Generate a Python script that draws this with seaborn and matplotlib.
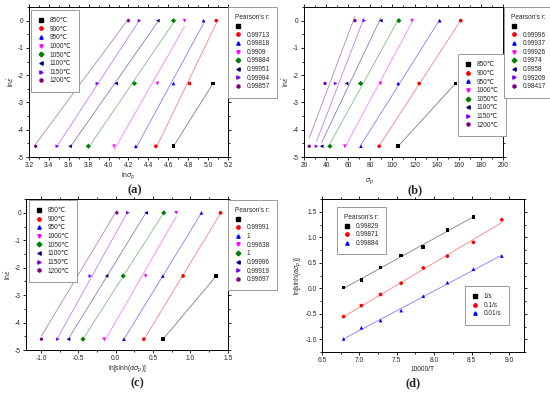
import numpy as np
import pandas as pd
import seaborn as sns
import matplotlib.pyplot as plt
from matplotlib.lines import Line2D
from matplotlib.ticker import AutoMinorLocator, FormatStrFormatter

# ---- data ----
temps = [850, 900, 950, 1000, 1050, 1100, 1150, 1200]
rate_labels = ["1/s", "0.1/s", "0.01/s"]
ln_rate = [0.0, -2.303, -4.605]

# ln(sigma_p), ordered by temperature, for 1, 0.1, 0.01 /s
ln_sig_1 = [np.nan, 5.083, 4.955, 4.764, 4.653, 4.495, 4.311, 4.200]
ln_sig_01 = [5.050, 4.814, 4.653, 4.492, 4.260, 4.076, 3.888, 3.690]
ln_sig_001 = [4.653, 4.475, 4.274, 4.056, 3.797, 3.613, 3.485, 3.267]

# sigma_p (MPa)
sig_1 = [np.nan, 161.8, 142.8, 117.8, 105.8, 89.5, 74.5, 66.1]
sig_01 = [157.0, 124.2, 105.2, 89.2, 71.2, 58.5, 48.6, 39.0]
sig_001 = [105.2, 88.0, 71.5, 57.0, 43.5, 36.0, 31.4, 24.8]

# ln[sinh(alpha*sigma_p)]
lns_1 = [np.nan, 1.402, 1.147, 0.810, 0.643, 0.407, 0.163, 0.015]
lns_01 = [1.344, 0.901, 0.630, 0.400, 0.100, -0.122, -0.340, -0.556]
lns_001 = [0.633, 0.376, 0.110, -0.155, -0.438, -0.632, -0.774, -0.994]

# 10000/T
inv_T = [8.905, 8.525, 8.177, 7.855, 7.559, 7.283, 7.027, 6.789]

r_a = ["0.99713", "0.99818", "0.9909", "0.99884", "0.99951", "0.99994", "0.99857"]
r_b = ["0.99996", "0.99937", "0.99926", "0.9974", "0.9958", "0.99209", "0.98417"]
r_c = ["0.99991", "1", "0.99638", "1", "0.99996", "0.99919", "0.99697"]
r_d = ["0.99829", "0.99871", "0.99884"]

t_colors = ["#000000", "#ff0000", "#0000ff", "#ff00ff", "#008000", "#000080", "#8000ff", "#800080"]
t_markers = ["s", "o", "^", "v", "D", "<", ">", "h"]
d_colors = ["#000000", "#ff0000", "#0000ff"]
d_markers = ["s", "o", "^"]

sns.set_style("ticks")
plt.rcParams["font.family"] = ["Liberation Sans", "DejaVu Sans"]
plt.rcParams["axes.unicode_minus"] = False
plt.rcParams["mathtext.fontset"] = "dejavusans"

fig = plt.figure(figsize=(5.5, 3.95), dpi=100)
FS = 4.8
LFS = 4.7


def style_axes(ax):
    ax.tick_params(which="both", direction="out", top=True, right=True,
                   labelsize=FS, width=0.6, color="black", pad=1.5)
    ax.tick_params(which="major", length=2.2)
    ax.tick_params(which="minor", length=1.3)
    ax.xaxis.set_minor_locator(AutoMinorLocator(2))
    ax.yaxis.set_minor_locator(AutoMinorLocator(2))
    for sp in ax.spines.values():
        sp.set_linewidth(0.7)
        sp.set_color("black")


def handles(colors, markers):
    return [Line2D([], [], ls="none", marker=m, color=c, markersize=2.4)
            for c, m in zip(colors, markers)]


def add_legend(hs, labels, anchor, title=None):
    leg = fig.legend(hs, labels, loc="upper left", bbox_to_anchor=anchor,
                     fontsize=LFS, title=title, title_fontsize=LFS,
                     frameon=True, fancybox=False, edgecolor="#999999",
                     framealpha=1, labelspacing=0.25, handlelength=0.9,
                     handletextpad=0.9, borderpad=1.1, borderaxespad=0,
                     alignment="left")
    leg.get_frame().set_linewidth(0.7)
    return leg


def temp_panel(ax, cols, xlim, xticks, fmt, xlabel, r_vals, t_anchor, r_anchor):
    rows = []
    for i, t in enumerate(temps):
        for col, y in zip(cols, ln_rate):
            rows.append({"T": t, "x": col[i], "y": y})
    df = pd.DataFrame(rows).dropna()
    for i, t in enumerate(temps):
        sub = df[df["T"] == t]
        sns.regplot(data=sub, x="x", y="y", scatter=False, ci=None, ax=ax,
                    truncate=True,
                    line_kws=dict(color=t_colors[i], alpha=0.5, lw=0.6))
    sns.scatterplot(data=df, x="x", y="y", hue="T", style="T", hue_order=temps,
                    style_order=temps, palette=dict(zip(temps, t_colors)),
                    markers=dict(zip(temps, t_markers)), s=7, linewidth=0,
                    legend=False, ax=ax, zorder=3)
    ax.set_xlim(*xlim)
    ax.set_ylim(-5, 0.5)
    ax.set_xticks(xticks)
    ax.set_yticks([0, -1, -2, -3, -4, -5])
    ax.xaxis.set_major_formatter(FormatStrFormatter(fmt))
    ax.set_xlabel(xlabel, fontsize=FS, labelpad=1)
    ax.set_ylabel(r"ln$\dot{\varepsilon}$", fontsize=FS, labelpad=1)
    style_axes(ax)
    add_legend(handles(t_colors, t_markers), [f"{t}℃" for t in temps], t_anchor)
    add_legend(handles(t_colors, t_markers), [" "] + r_vals, r_anchor,
               title="Pearson's r:")


ax_a = fig.add_axes([0.0527, 0.6025, 0.3618, 0.3797])
temp_panel(ax_a, [ln_sig_1, ln_sig_01, ln_sig_001], (3.2, 5.2),
           np.arange(3.2, 5.21, 0.2), "%.1f", r"ln$\sigma_p$", r_a,
           (0.0564, 0.975), (0.4145, 0.982))

ax_b = fig.add_axes([0.5527, 0.6025, 0.3618, 0.3797])
temp_panel(ax_b, [sig_1, sig_01, sig_001], (20, 200),
           np.arange(20, 201, 20), "%d", r"$\sigma_p$", r_b,
           (0.8327, 0.863), (0.9164, 0.982))
ax_b.xaxis.set_label_coords(0.33, -0.13)

ax_c = fig.add_axes([0.0473, 0.1139, 0.367, 0.382])
temp_panel(ax_c, [lns_1, lns_01, lns_001], (-1.2, 1.5),
           [-1.0, -0.5, 0.0, 0.5, 1.0, 1.5], "%.1f",
           r"ln[sinh($\alpha\sigma_p$)]", r_c,
           (0.0527, 0.4937), (0.4145, 0.4937))

# ---- panel (d) ----
ax_d = fig.add_axes([0.5855, 0.1089, 0.367, 0.387])
rows = []
for lab, col in zip(rate_labels, [lns_1, lns_01, lns_001]):
    for x, y in zip(inv_T, col):
        rows.append({"rate": lab, "x": x, "y": y})
dfd = pd.DataFrame(rows).dropna()
for i, lab in enumerate(rate_labels):
    sns.regplot(data=dfd[dfd["rate"] == lab], x="x", y="y", scatter=False,
                ci=None, ax=ax_d, truncate=True,
                line_kws=dict(color=d_colors[i], alpha=0.5, lw=0.6))
sns.scatterplot(data=dfd, x="x", y="y", hue="rate", style="rate",
                hue_order=rate_labels, style_order=rate_labels,
                palette=dict(zip(rate_labels, d_colors)),
                markers=dict(zip(rate_labels, d_markers)), s=7, linewidth=0,
                legend=False, ax=ax_d, zorder=3)
ax_d.set_xlim(6.5, 9.2)
ax_d.set_ylim(-1.25, 1.75)
ax_d.set_xticks([6.5, 7.0, 7.5, 8.0, 8.5, 9.0])
ax_d.set_yticks([-1.0, -0.5, 0.0, 0.5, 1.0, 1.5])
ax_d.xaxis.set_major_formatter(FormatStrFormatter("%.1f"))
ax_d.yaxis.set_major_formatter(FormatStrFormatter("%.1f"))
ax_d.set_xlabel("10000/T", fontsize=FS, labelpad=1)
ax_d.set_ylabel(r"ln[sinh($\alpha\sigma_p$)]", fontsize=FS, labelpad=1)
style_axes(ax_d)
add_legend(handles(d_colors, d_markers), r_d, (0.6127, 0.476), title="Pearson's r:")
add_legend(handles(d_colors, d_markers), rate_labels, (0.8455, 0.276))

for x, y, s in [(0.245, 0.519, "(a)"), (0.755, 0.519, "(b)"),
                (0.249, 0.030, "(c)"), (0.751, 0.030, "(d)")]:
    fig.text(x, y, s, ha="center", va="center", fontsize=9,
             fontweight="bold", family="Liberation Serif")

fig.savefig("out.png", dpi=100)
